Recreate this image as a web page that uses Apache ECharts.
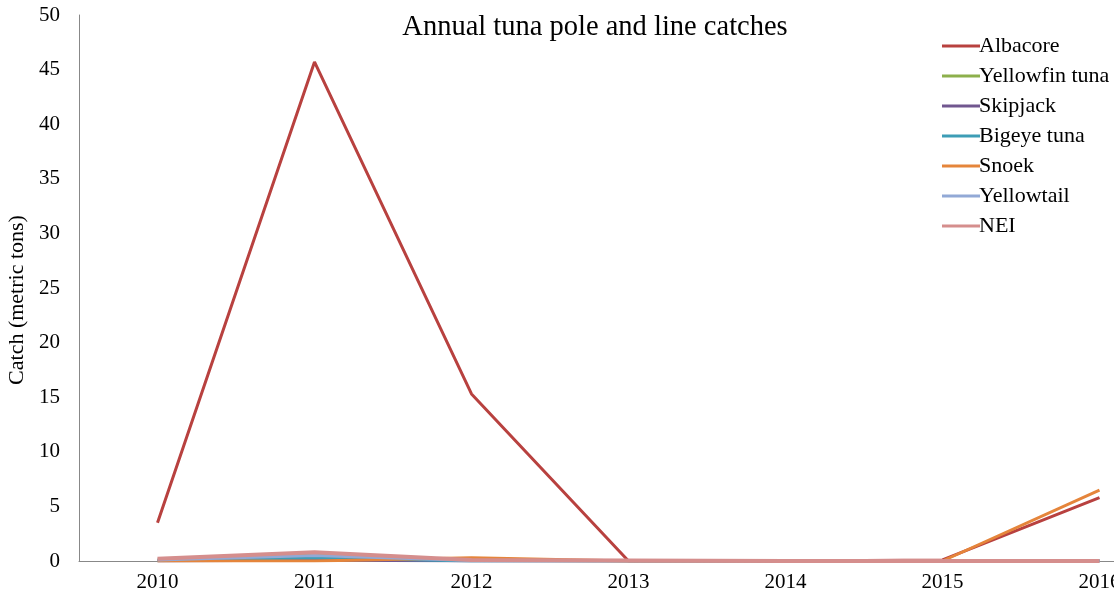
<!DOCTYPE html>
<html><head><meta charset="utf-8">
<script src="https://cdn.jsdelivr.net/npm/echarts@6/dist/echarts.min.js"></script>
<style>html,body{margin:0;padding:0;background:#fff}#c{width:1114px;height:600px}</style>
</head><body><div id="c"></div>
<script>
const years = ['2010','2011','2012','2013','2014','2015','2016'];
const albacore   = [3.5, 45.7, 15.3, 0, 0, 0.1, 5.8];
const yellowfin  = [0.1, 0.6, 0.1, 0, 0, 0.05, 0];
const skipjack   = [0, 0.1, 0, 0, 0, 0, 0];
const bigeye     = [0.05, 0.3, 0, 0, 0, 0, 0];
const snoek      = [0, 0, 0.3, 0, 0, 0, 6.5];
const yellowtail = [0.1, 0.5, 0.05, 0, 0, 0, 0];
const nei        = [0.2, 0.8, 0.1, 0.05, 0, 0, 0];
const yTicks = { min: 0, max: 50, interval: 5 };

const names = ['Albacore','Yellowfin tuna','Skipjack','Bigeye tuna','Snoek','Yellowtail','NEI'];
const data = [albacore, yellowfin, skipjack, bigeye, snoek, yellowtail, nei];
const colors = ['#B8413F','#8DB04C','#71578F','#3D9DB6','#E5853B','#92A9D6','#D58E8D'];
const widths = [3, 3, 3, 3, 3, 3, 4];
const font = 'Liberation Serif';

const chart = echarts.init(document.getElementById('c'));
chart.setOption({
  animation: false,
  textStyle: { fontFamily: font },
  title: { text: 'Annual tuna pole and line catches', left: 590, textAlign: 'center', top: 8,
    textStyle: { fontFamily: font, fontSize: 28.5, fontWeight: 'normal', color: '#000' } },
  legend: {
    orient: 'vertical', left: 937, top: 30, itemGap: 8, itemWidth: 38, itemHeight: 20,
    icon: 'path://M0,8.5 L38,8.5 L38,11.5 L0,11.5 Z',
    textStyle: { fontFamily: font, fontSize: 22, color: '#000', padding: [0,0,0,-6] },
    data: names
  },
  grid: { left: 79, top: 15, bottom: 39, width: 1099, containLabel: false, outerBoundsMode: 'none' },
  xAxis: {
    type: 'category', data: years, boundaryGap: true,
    axisLine: { lineStyle: { color: '#888', width: 1 } },
    axisTick: { show: false },
    axisLabel: { fontFamily: font, fontSize: 21, color: '#000', margin: 11 }
  },
  yAxis: {
    type: 'value', min: yTicks.min, max: yTicks.max, interval: yTicks.interval,
    name: 'Catch (metric tons)', nameLocation: 'middle', nameGap: 50,
    nameTextStyle: { fontFamily: font, fontSize: 22, color: '#000', padding: [0, 24, 0, 0] },
    axisLine: { show: true, lineStyle: { color: '#888', width: 1 } },
    axisTick: { show: false },
    splitLine: { show: false },
    axisLabel: { fontFamily: font, fontSize: 21, color: '#000', margin: 19 }
  },
  series: names.map((n, i) => ({
    name: n, type: 'line', data: data[i], symbol: 'none',
    lineStyle: { color: colors[i], width: widths[i] },
    itemStyle: { color: colors[i] }, z: 2 + i
  }))
});
</script></body></html>
